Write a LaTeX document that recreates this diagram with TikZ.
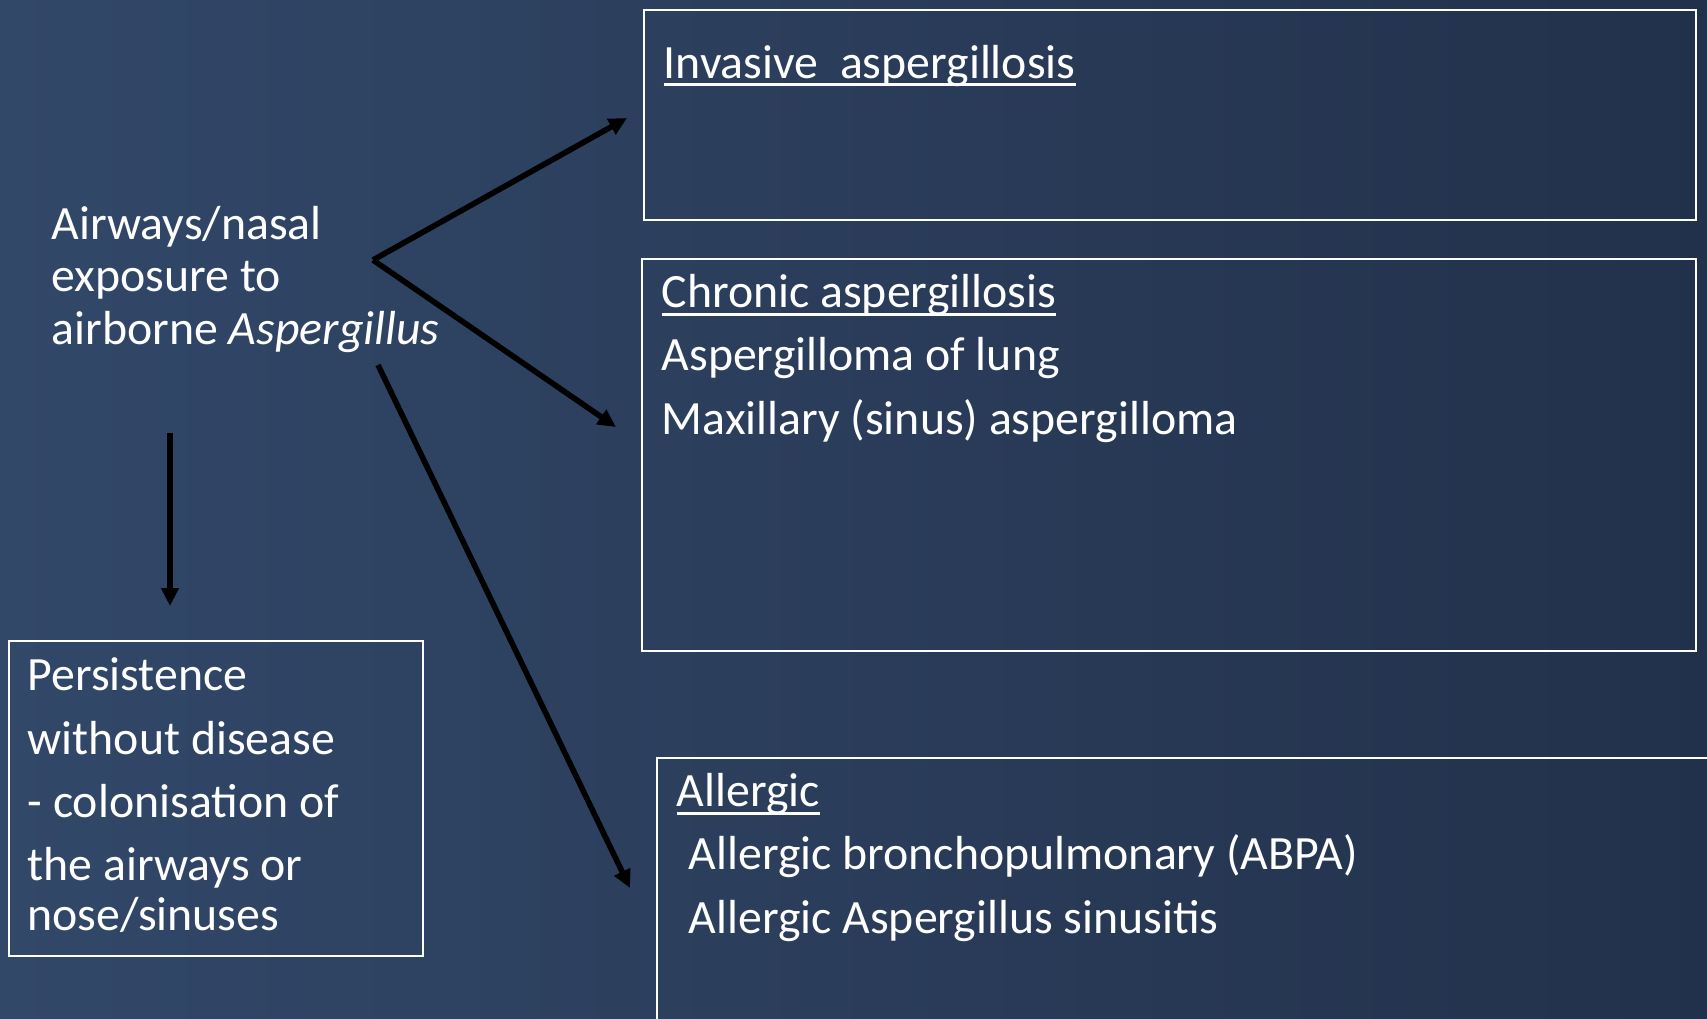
\documentclass[tikz,border=0pt]{standalone}
\usepackage{fontspec}
\setmainfont{Carlito}
\usetikzlibrary{arrows.meta,positioning}

\definecolor{bgleft}{RGB}{50,72,105}
\definecolor{bgright}{RGB}{34,49,75}
\newcommand{\undl}[1]{\leavevmode\setbox0\hbox{#1}\rlap{\rule[-0.17em]{\wd0}{0.065em}}\box0}

\begin{document}
\begin{tikzpicture}[
    txt/.style={text=white, inner sep=0pt, align=left, anchor=base west, font=\fontsize{13.6}{14.9}\selectfont},
    wide/.style={font=\fontsize{13.6}{18}\selectfont},
    box/.style={draw=white, line width=0.6pt, inner sep=0pt, anchor=north west},
    arr/.style={line width=1.6pt, -{Triangle[length=0.18cm,width=0.17cm]}}
  ]
  % background
  \shade[left color=bgleft, right color=bgright] (0,0) rectangle (17.07,-10.18);
  \useasboundingbox (0,0) rectangle (17.07,-10.18);

  % boxes
  \node[box, minimum width=10.52cm, minimum height=2.10cm] (inv) at (6.43,-0.09) {};
  \node[box, minimum width=10.54cm, minimum height=3.92cm] (chr) at (6.41,-2.58) {};
  \node[box, minimum width=11cm, minimum height=3cm] (alg) at (6.56,-7.57) {};
  \node[box, minimum width=4.14cm, minimum height=3.15cm] (per) at (0.08,-6.40) {};

  % texts (anchored on the baseline of the last line)
  \node[txt] (src) at (0.51,-3.44) {Airways/nasal\\exposure to\\airborne \textit{Aspergillus}};
  \node[txt] (inv-t) at ([shift={(0.20,-0.69)}]inv.north west) {\undl{Invasive\ \ aspergillosis}};
  \node[txt, wide] (chr-t) at ([shift={(0.20,-1.76)}]chr.north west)
    {\undl{Chronic aspergillosis}\\Aspergilloma of lung\\Maxillary (sinus) aspergilloma};
  \node[txt, wide] (alg-t) at ([shift={(0.20,-1.76)}]alg.north west)
    {\undl{Allergic}\\\hspace{0.12cm}Allergic bronchopulmonary (ABPA)\\\hspace{0.12cm}Allergic Aspergillus sinusitis};
  \node[txt, wide] (per-t) at ([shift={(0.19,-2.90)}]per.north west)
    {Persistence\\without disease\\- colonisation of\\the airways or\\[-0.14cm]nose/sinuses};

  % arrows
  \coordinate (fork) at (3.73,-2.60);
  \coordinate (fork-low) at (3.78,-3.65);
  \coordinate (src-foot) at (1.70,-4.33);
  \coordinate (inv-in) at (6.27,-1.18);
  \coordinate (chr-in) at (6.16,-4.27);
  \coordinate (alg-in) at (6.30,-8.88);
  \coordinate (per-in) at (1.70,-6.06);
  \draw[arr] (fork) -- (inv-in);
  \draw[arr] (fork) -- (chr-in);
  \draw[arr] (fork-low) -- (alg-in);
  \draw[arr] (src-foot) -- (per-in);
\end{tikzpicture}
\end{document}
